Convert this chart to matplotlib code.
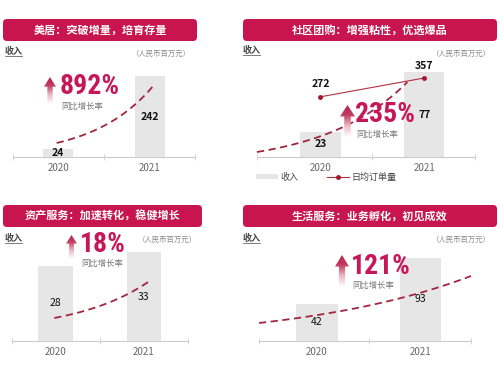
import numpy as np
import matplotlib
matplotlib.use('Agg')
from matplotlib import pyplot as plt
from matplotlib import font_manager
from matplotlib.patches import FancyBboxPatch, Polygon
from matplotlib.lines import Line2D
from matplotlib.colors import LinearSegmentedColormap

plt.rcParams['font.family'] = ['Noto Sans CJK SC', 'DejaVu Sans']

# Datos de las cuatro tarjetas
anios = ['2020', '2021']
titulos = ['美居：突破增量，培育存量', '社区团购：增强粘性，优选爆品',
           '资产服务：加速转化，稳健增长', '生活服务：业务孵化，初见成效']
ingreso_hogar = [24, 242]
ingreso_grupo = [23, 77]
pedidos_grupo = [272, 357]
ingreso_activos = [28, 33]
ingreso_vida = [42, 93]
crecimiento = ['892%', '235%', '18%', '121%']
leyenda = ['收入', '日均订单量']

W, H = 500, 374
carmesi = '#C8144F'
rosa = '#C5175A'
guion = '#A3263F'
gris_barra = '#E6E6E6'

fig = plt.figure(figsize=(W / 100, H / 100), dpi=100)
fig.patch.set_facecolor('white')

# fuente estrecha para los porcentajes, si existe
nombres = {f.name for f in font_manager.fontManager.ttflist}
fam_pct, tam_pct = ['Liberation Sans', 'DejaVu Sans'], 16.5
for nombre, tam in [('Roboto Condensed', 20), ('Liberation Sans Narrow', 19.5)]:
    if nombre in nombres:
        fam_pct, tam_pct = [nombre, 'DejaVu Sans'], tam
        break


def caja(x0, y0, x1, y1):
    return [x0 / W, 1 - y1 / H, (x1 - x0) / W, (y1 - y0) / H]


def texto(x, y, s, **kw):
    return fig.text(x / W, 1 - y / H, s, **kw)


def encabezado(x0, y0, x1, y1, s):
    p = FancyBboxPatch((x0 / 100, (H - y1) / 100), (x1 - x0) / 100, (y1 - y0) / 100,
                       boxstyle='round,pad=0,rounding_size=0.04',
                       transform=fig.dpi_scale_trans, facecolor=carmesi, edgecolor='none')
    fig.add_artist(p)
    texto((x0 + x1) / 2, (y0 + y1) / 2, s, ha='center', va='center',
          color='white', fontsize=8, fontweight='bold')


def ingreso_label(x, y):
    texto(x, y, '收入', ha='left', va='center', fontsize=6.5, color='#444444', fontweight='bold')
    fig.add_artist(Line2D([x / W, (x + 17) / W], [1 - (y + 5) / H] * 2,
                          transform=fig.transFigure, color='#666666', lw=0.6))


def unidad(x, y):
    texto(x, y, '（人民币百万元）', ha='right', va='center', fontsize=5.3, color='#888888')


def flecha(x0, y0, x1, y1):
    a = fig.add_axes(caja(x0, y0, x1, y1))
    a.axis('off')
    a.set_xlim(0, 1)
    a.set_ylim(0, 1)
    cmap = LinearSegmentedColormap.from_list('g', [(0, '#ffffff'), (0.35, '#ecb9c6'),
                                                   (0.7, '#c23a60'), (1, '#b8254e')])
    grad = np.linspace(0, 1, 100).reshape(-1, 1)
    im = a.imshow(grad, extent=(0, 1, 0, 1), origin='lower', cmap=cmap, aspect='auto')
    poly = Polygon([(0.28, 0), (0.72, 0), (0.72, 0.64), (1, 0.64), (0.5, 1),
                    (0, 0.64), (0.28, 0.64)], transform=a.transData,
                   facecolor='none', edgecolor='none')
    a.add_patch(poly)
    im.set_clip_path(poly)


def porcentaje(x, y, s):
    texto(x, y, s, ha='left', va='center', fontsize=tam_pct, fontweight='bold',
          color=rosa, family=fam_pct)
    texto(x + 1, y + 19, '同比增长率', ha='left', va='center', fontsize=6, color='#777777')


def panel(rect, xlim, ymax, valores, ancho, peso):
    ax = fig.add_axes(caja(*rect))
    ax.set_facecolor('none')
    barras = ax.bar(range(len(valores)), valores, width=ancho, color=gris_barra, zorder=1)
    for i, v in enumerate(valores):
        ax.text(i, v / 2, str(v), ha='center', va='center', fontsize=7.5,
                fontweight=peso, color='#111111', zorder=3)
    ax.set_xlim(*xlim)
    ax.set_ylim(0, ymax)
    for s in ['top', 'right', 'left']:
        ax.spines[s].set_visible(False)
    ax.spines['bottom'].set_color('#cccccc')
    ax.spines['bottom'].set_linewidth(0.8)
    ax.set_yticks([])
    ax.set_xticks([0, 1], anios)
    ax.set_xticks([xlim[0], 0.5, xlim[1]], minor=True)
    ax.tick_params(axis='x', which='major', length=0, pad=4.5, labelsize=7, colors='#666666')
    ax.tick_params(axis='x', which='minor', length=4, direction='inout', color='#cccccc')
    return ax, barras


def tendencia(ax, x0, y0, x1, y1, k=1.6):
    # curva punteada decorativa en coordenadas de los ejes
    t = np.linspace(0, 1, 60)
    xs = x0 + (x1 - x0) * t
    ys = y0 + (y1 - y0) * (np.exp(k * t) - 1) / (np.exp(k) - 1)
    ax.plot(xs, ys, transform=ax.transAxes, color=guion, lw=1.3,
            ls=(0, (4, 2.5)), zorder=2, clip_on=False)


# Panel 1: 美居
encabezado(3, 19, 197, 41, titulos[0])
ingreso_label(5, 51)
unidad(191, 54)
ax1, _ = panel((13, 57, 195, 157), (-0.49, 1.49), 299, ingreso_hogar, 0.33, 'bold')
tendencia(ax1, 0.24, 0.14, 0.77, 0.71)
flecha(44, 77, 56, 104)
porcentaje(60, 87, crecimiento[0])

# Panel 2: 社区团购
encabezado(243, 19, 497, 41, titulos[1])
ingreso_label(243, 50)
unidad(491, 54)
ax2, barras2 = panel((257, 57, 475, 157), (-0.61, 1.49), 90.6, ingreso_grupo, 0.39, 'bold')
tendencia(ax2, 0.0, 0.05, 0.69, 0.75, k=1.8)
ax2b = ax2.twinx()
ax2b.set_ylim(0, 452)
ax2b.axis('off')
linea, = ax2b.plot(range(len(pedidos_grupo)), pedidos_grupo, color='#B5303F', lw=0.8,
                   marker='o', ms=2.5, mfc='#A01830', mec='#A01830', zorder=4)
for i, v in enumerate(pedidos_grupo):
    ax2b.annotate(str(v), (i, v), xytext=(0, 9), textcoords='offset points',
                  ha='center', va='center', fontsize=7.5, fontweight='bold', color='#111111')
flecha(340, 105, 355, 137)
porcentaje(355, 115, crecimiento[1])
ax2.legend([barras2, linea], leyenda, loc='center left',
           bbox_to_anchor=(248 / W, 1 - 177 / H), bbox_transform=fig.transFigure,
           ncol=2, frameon=False, fontsize=6.5, handlelength=2.4, handleheight=0.5,
           columnspacing=3.2, handletextpad=0.3, labelcolor='#444444')

# Panel 3: 资产服务
encabezado(3, 205, 202, 227, titulos[2])
ingreso_label(5, 238)
unidad(197, 240)
ax3, _ = panel((12, 241, 188, 341), (-0.49, 1.5), 37.1, ingreso_activos, 0.39, 'medium')
tendencia(ax3, 0.24, 0.23, 0.79, 0.61, k=1.3)
flecha(66, 235, 77, 259)
porcentaje(80, 244, crecimiento[2])

# Panel 4: 生活服务
encabezado(243, 205, 497, 227, titulos[3])
ingreso_label(243, 238)
unidad(491, 240)
ax4, _ = panel((259, 241, 471, 341), (-0.56, 1.49), 112, ingreso_vida, 0.4, 'medium')
tendencia(ax4, 0.0, 0.18, 1.0, 0.65, k=1.2)
flecha(335, 255, 349, 287)
porcentaje(351, 266, crecimiento[3])

fig.savefig('out.png', dpi=100)
